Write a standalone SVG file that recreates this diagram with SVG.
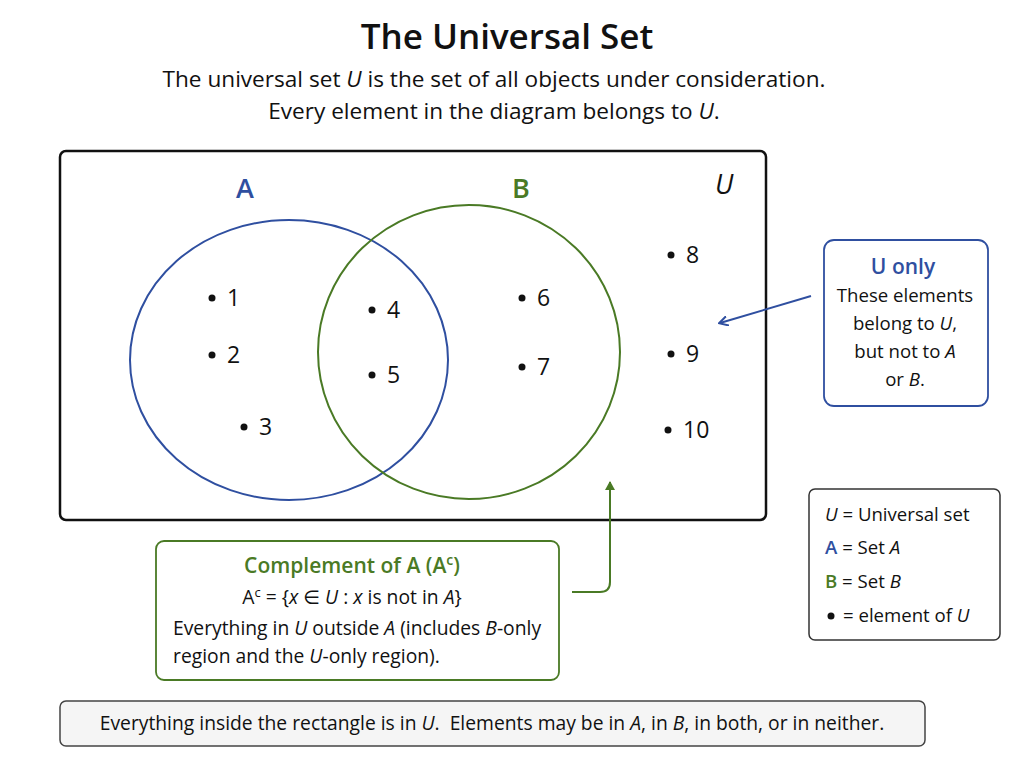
<svg xmlns="http://www.w3.org/2000/svg" width="1024" height="768" viewBox="0 0 1024 768">
<style>
text{font-family:"Open Sans","Noto Sans","DejaVu Sans",sans-serif;fill:#111}
.t{font-size:22.6px}
.s{font-size:18.6px}
.n{font-size:23px}
.c{text-anchor:middle}
.i{font-style:italic}
</style>
<defs>
<marker id="ab" markerWidth="10" markerHeight="10" refX="8" refY="5" orient="auto" markerUnits="userSpaceOnUse"><path d="M0,0 L9,5 L0,10" fill="none" stroke="#2f4fa0" stroke-width="2"/></marker>
<marker id="ag" markerWidth="10" markerHeight="10" refX="8" refY="5" orient="auto" markerUnits="userSpaceOnUse"><path d="M0,0 L9,5 L0,10 z" fill="#4a7a25"/></marker>
</defs>
<rect width="1024" height="768" fill="#fff"/>
<text x="507" y="49" class="c" style="font-size:35px;font-weight:600">The Universal Set</text>
<text x="494" y="87" class="c t">The universal set <tspan class="i">U</tspan> is the set of all objects under consideration.</text>
<text x="494" y="119" class="c t">Every element in the diagram belongs to <tspan class="i">U</tspan>.</text>
<g id="U"><rect x="60" y="151" width="706" height="369" rx="6" fill="none" stroke="#111" stroke-width="2.5"/>
<text x="715" y="194" class="i" style="font-size:27px">U</text></g>
<g id="A"><ellipse cx="289" cy="360" rx="159" ry="140" fill="none" stroke="#2f4fa0" stroke-width="2"/>
<text x="245" y="198" class="c" style="font-size:27px;font-weight:600;fill:#2f4fa0">A</text></g>
<g id="B"><ellipse cx="469" cy="352" rx="151" ry="147" fill="none" stroke="#4a7a25" stroke-width="2"/>
<text x="521" y="198" class="c" style="font-size:27px;font-weight:600;fill:#4a7a25">B</text></g>
<g id="elements">
<circle cx="212" cy="298" r="3.5" fill="#111"/><text x="227" y="306" class="n">1</text>
<circle cx="212" cy="355" r="3.5" fill="#111"/><text x="227" y="363" class="n">2</text>
<circle cx="244" cy="427" r="3.5" fill="#111"/><text x="259" y="435" class="n">3</text>
<circle cx="372" cy="310" r="3.5" fill="#111"/><text x="387" y="318" class="n">4</text>
<circle cx="372" cy="375" r="3.5" fill="#111"/><text x="387" y="383" class="n">5</text>
<circle cx="522" cy="298" r="3.5" fill="#111"/><text x="537" y="306" class="n">6</text>
<circle cx="522" cy="367" r="3.5" fill="#111"/><text x="537" y="375" class="n">7</text>
<circle cx="671" cy="255" r="3.5" fill="#111"/><text x="686" y="263" class="n">8</text>
<circle cx="671" cy="354" r="3.5" fill="#111"/><text x="686" y="362" class="n">9</text>
<circle cx="668" cy="430" r="3.5" fill="#111"/><text x="683" y="438" class="n">10</text>
</g>
<g id="connectors">
<line x1="811" y1="296" x2="720" y2="323" stroke="#2f4fa0" stroke-width="2" marker-end="url(#ab)"/>
<path d="M572,592 H600 Q610,592 610,582 V482" fill="none" stroke="#4a7a25" stroke-width="2" marker-end="url(#ag)"/>
</g>
<g id="uonly"><rect x="824" y="240" width="164" height="166" rx="10" fill="#fff" stroke="#2f4fa0" stroke-width="1.8"/>
<text x="903" y="274" class="c" style="font-size:21px;font-weight:600;fill:#2f4fa0">U only</text>
<text x="905" y="302" class="c s">These elements</text>
<text x="905" y="330" class="c s">belong to <tspan class="i">U</tspan>,</text>
<text x="905" y="358" class="c s">but not to <tspan class="i">A</tspan></text>
<text x="905" y="386" class="c s">or <tspan class="i">B</tspan>.</text></g>
<g id="complement"><rect x="156" y="541" width="403" height="139" rx="8" fill="#fff" stroke="#4a7a25" stroke-width="1.8"/>
<text x="352" y="573" class="c" style="font-size:21px;font-weight:600;fill:#4a7a25">Complement of A (A<tspan dy="-8" style="font-size:14px">c</tspan><tspan dy="8">)</tspan></text>
<text x="352" y="604" class="c s" style="font-size:19.3px">A<tspan dy="-7" style="font-size:13px">c</tspan><tspan dy="7"> = {</tspan><tspan class="i">x</tspan> ∈ <tspan class="i">U</tspan> : <tspan class="i">x</tspan> is not in <tspan class="i">A</tspan>}</text>
<text x="173" y="635" class="s" style="font-size:19.3px">Everything in <tspan class="i">U</tspan> outside <tspan class="i">A</tspan> (includes <tspan class="i">B</tspan>-only</text>
<text x="173" y="663" class="s" style="font-size:19.3px">region and the <tspan class="i">U</tspan>-only region).</text></g>
<g id="legend"><rect x="809" y="489" width="191" height="151" rx="6" fill="#fff" stroke="#333" stroke-width="1.5"/>
<text x="825" y="521" class="s"><tspan class="i">U</tspan> = Universal set</text>
<text x="825" y="554" class="s"><tspan style="fill:#2f4fa0;font-weight:600">A</tspan> = Set <tspan class="i">A</tspan></text>
<text x="825" y="588" class="s"><tspan style="fill:#4a7a25;font-weight:600">B</tspan> = Set <tspan class="i">B</tspan></text>
<circle cx="831" cy="616" r="3.5" fill="#111"/>
<text x="843" y="622" class="s">= element of <tspan class="i">U</tspan></text></g>
<g id="footer"><rect x="60" y="701" width="865" height="45" rx="6" fill="#f5f5f5" stroke="#444" stroke-width="1.5"/>
<text x="492" y="730" class="c" style="font-size:19.3px;white-space:pre" xml:space="preserve">Everything inside the rectangle is in <tspan class="i">U</tspan>.  Elements may be in <tspan class="i">A</tspan>, in <tspan class="i">B</tspan>, in both, or in neither.</text></g>
</svg>
